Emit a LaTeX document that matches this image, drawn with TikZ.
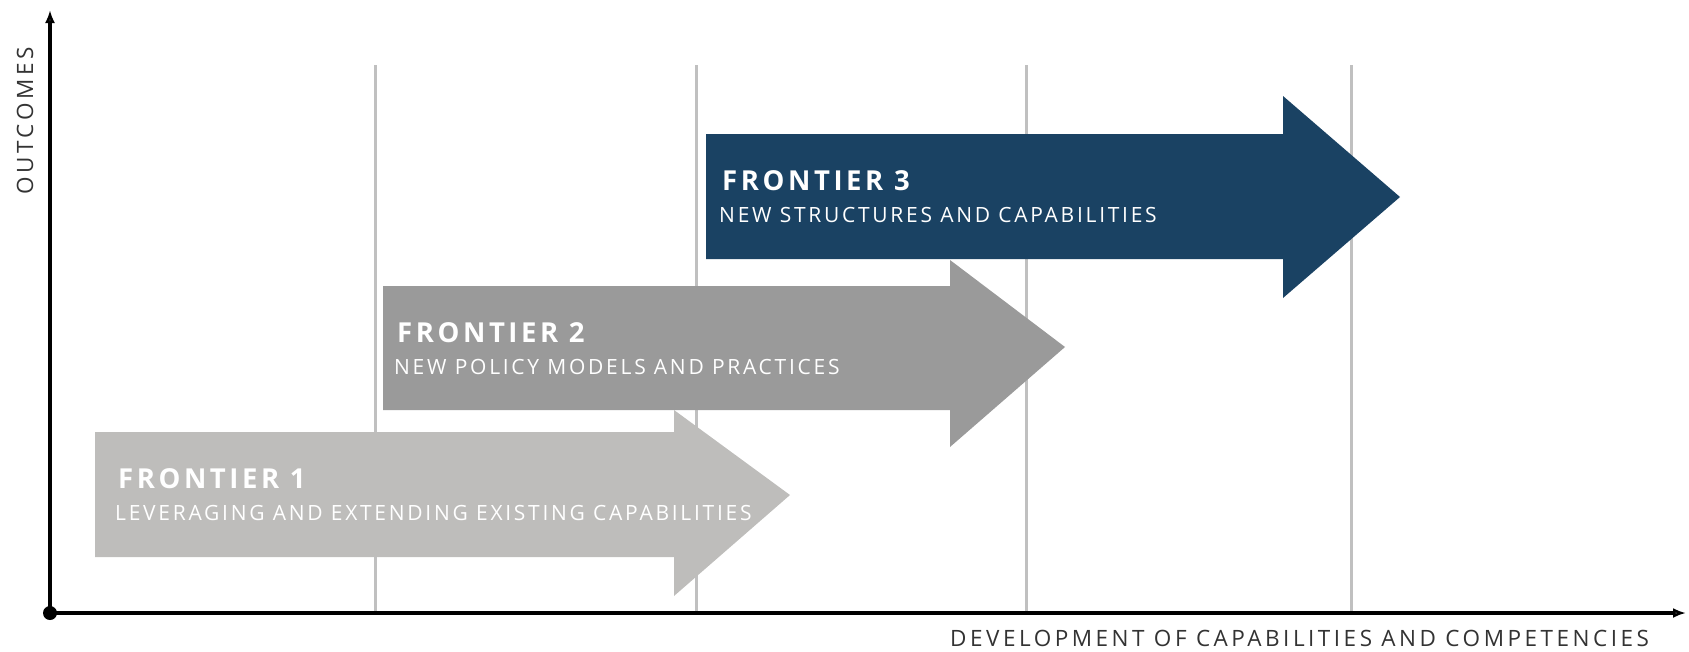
\documentclass[tikz,border=0pt]{standalone}
\usepackage{fontspec}
\setmainfont{Open Sans}
\newfontfamily\labfont[LetterSpace=13]{Open Sans}
\newfontfamily\axfont[LetterSpace=15.6]{Open Sans}
\newfontfamily\titfont[LetterSpace=13]{Open Sans Bold}
\usetikzlibrary{arrows.meta}
\definecolor{fone}{HTML}{BEBDBB}
\definecolor{ftwo}{HTML}{9A9A9A}
\definecolor{fthree}{HTML}{1A4263}
\definecolor{grid}{HTML}{C0C0C0}
\definecolor{axtext}{HTML}{333333}
\tikzset{
  gridline/.style={draw=grid, line width=3pt},
  axis/.style={draw=black, line width=3.5pt, -{Latex[open,length=13pt,width=10pt]}},
  title/.style={anchor=base west, text=white, inner sep=0pt, font=\titfont\fontsize{27.5}{31}\selectfont},
  subtitle/.style={anchor=base west, text=white, inner sep=0pt, font=\labfont\fontsize{21}{25}\selectfont},
  axlabel/.style={inner sep=0pt, text=axtext, font=\axfont\fontsize{22.5}{26}\selectfont},
}
\begin{document}
\begin{tikzpicture}[x=1pt,y=-1pt]
\useasboundingbox (0,0) rectangle (1689,651);
% grid lines
\foreach \gx in {375,696,1026,1351}{
  \draw[gridline] (\gx,65) -- (\gx,613);
}
% frontier arrows
\fill[fone] (95,432) -- (674,432) -- (674,410) -- (790,495) -- (674,596) -- (674,557) -- (95,557) -- cycle;
\fill[ftwo] (383,286) -- (950,286) -- (950,260) -- (1065,347) -- (950,447) -- (950,410) -- (383,410) -- cycle;
\fill[fthree] (706,134) -- (1283,134) -- (1283,96) -- (1400,197) -- (1283,298) -- (1283,259) -- (706,259) -- cycle;
% axes
\coordinate (O) at (50,613);
\coordinate (Y) at (50,10);
\coordinate (X) at (1686,613);
\draw[axis] (O) -- (Y);
\draw[axis] (O) -- (X);
\fill (O) circle (7pt);
% texts
\node[title] (t1) at (118,488) {FRONTIER 1};
\node[subtitle] (s1) at (115,520) {LEVERAGING AND EXTENDING EXISTING CAPABILITIES};
\node[title] (t2) at (397,342) {FRONTIER 2};
\node[subtitle] (s2) at (394,374) {NEW POLICY MODELS AND PRACTICES};
\node[title] (t3) at (722,190) {FRONTIER 3};
\node[subtitle] (s3) at (719,222) {NEW STRUCTURES AND CAPABILITIES};
\node[axlabel, rotate=90] (yl) at (25,121) {OUTCOMES};
\node[axlabel, anchor=base west] (xl) at (950,646.5) {DEVELOPMENT OF CAPABILITIES AND COMPETENCIES};
\end{tikzpicture}
\end{document}
